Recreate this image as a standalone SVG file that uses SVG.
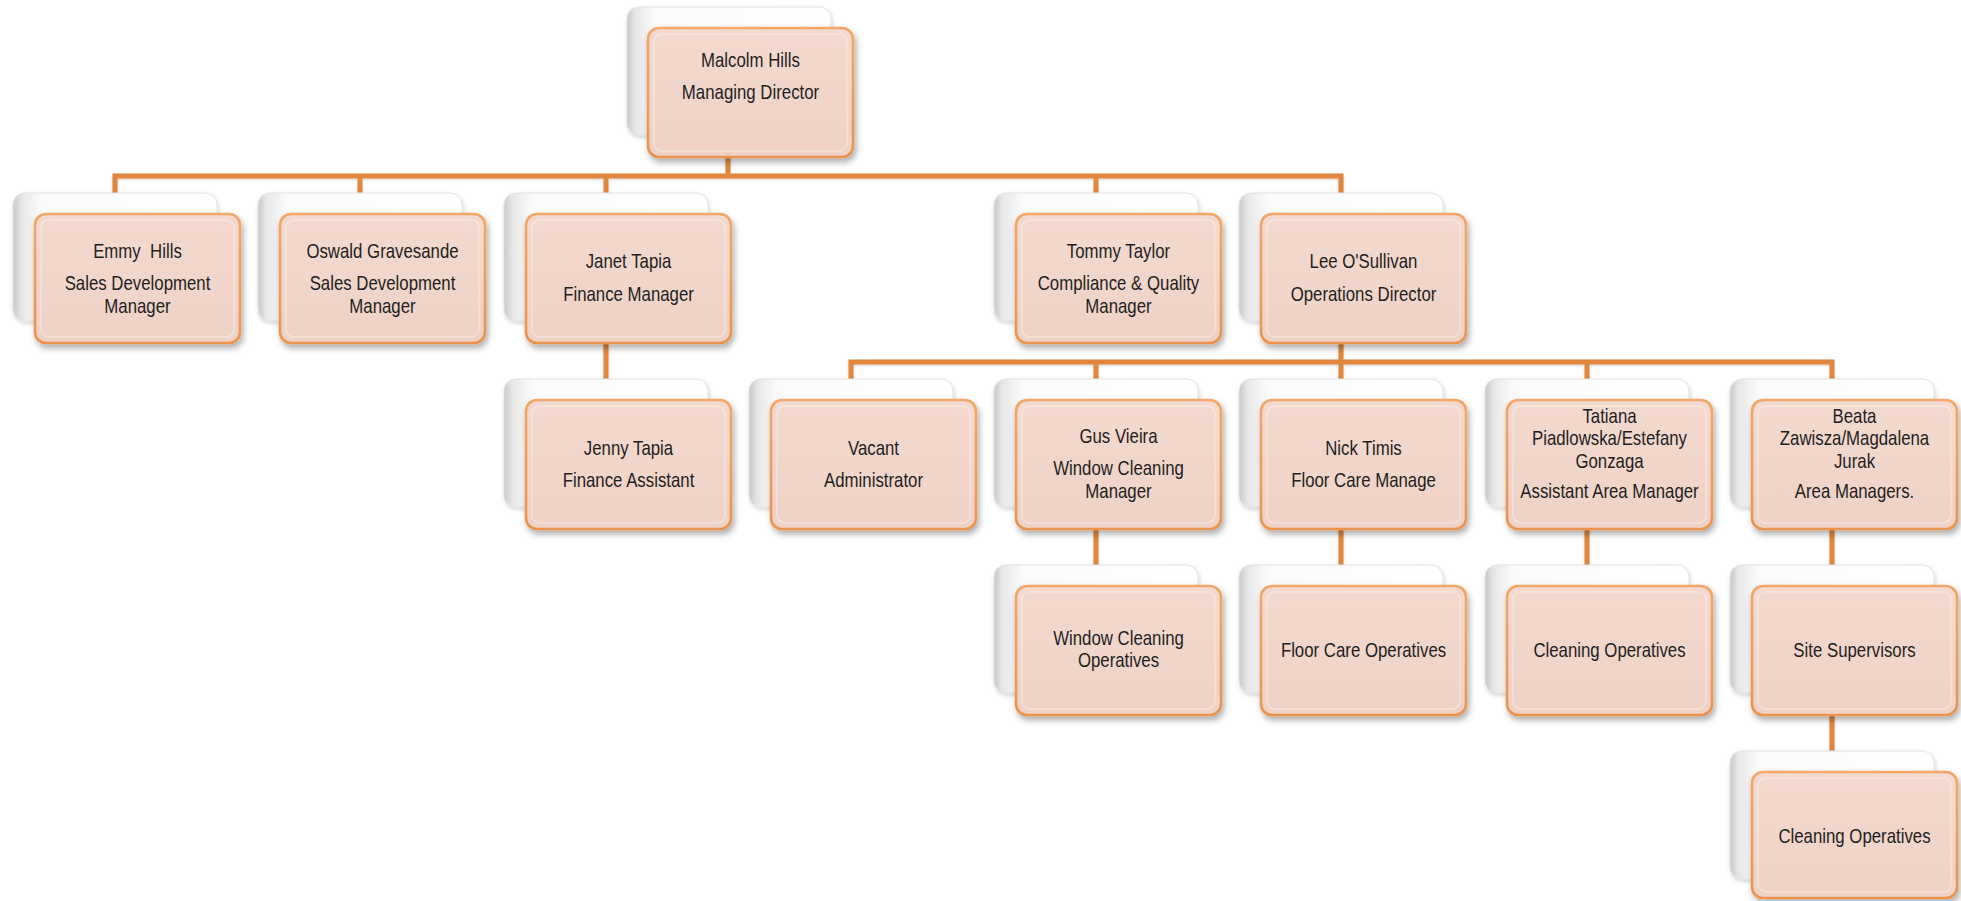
<svg xmlns="http://www.w3.org/2000/svg" width="1961" height="901" viewBox="0 0 1961 901">
<defs>
  <linearGradient id="gBack" x1="0" y1="0" x2="1" y2="0">
    <stop offset="0" stop-color="#c9c9c9"/>
    <stop offset="0.04" stop-color="#e6e6e6"/>
    <stop offset="0.14" stop-color="#fbfbfb"/>
    <stop offset="1" stop-color="#ffffff"/>
  </linearGradient>
  <linearGradient id="gFront" x1="0" y1="0" x2="0" y2="1">
    <stop offset="0" stop-color="#f3d9cf"/>
    <stop offset="1" stop-color="#efd2c6"/>
  </linearGradient>
  <linearGradient id="gEdge" x1="0" y1="0" x2="0" y2="1">
    <stop offset="0" stop-color="#f2a768"/>
    <stop offset="1" stop-color="#e9934f"/>
  </linearGradient>
  <filter id="shBack" x="-10%" y="-10%" width="125%" height="130%">
    <feDropShadow dx="1" dy="2" stdDeviation="2" flood-color="#000" flood-opacity="0.18"/>
  </filter>
  <filter id="shFront" x="-10%" y="-10%" width="125%" height="135%">
    <feDropShadow dx="2" dy="4" stdDeviation="3" flood-color="#000" flood-opacity="0.32"/>
  </filter>
  <filter id="shLine" filterUnits="userSpaceOnUse" x="0" y="0" width="1961" height="901">
    <feDropShadow dx="0" dy="1" stdDeviation="1" flood-color="#000" flood-opacity="0.2"/>
  </filter>
</defs>
<style>
  .back { fill: url(#gBack); stroke: #e2e2e2; stroke-width: 1; filter: url(#shBack); }
  .front { fill: url(#gFront); stroke: url(#gEdge); stroke-width: 2.6; filter: url(#shFront); }
  .gloss { fill: none; stroke: #ffffff; stroke-opacity: 0.35; stroke-width: 1.5; }
  .t { font-family: "Liberation Sans", Arial, sans-serif; font-size: 20.5px; fill: #1e1e1e; text-anchor: middle; white-space: pre; }
  .conn { fill: none; stroke: #e0873d; stroke-width: 5; stroke-linejoin: miter; stroke-linecap: butt; }
</style>
<rect width="1961" height="901" fill="#ffffff"/>

<g id="connectors" filter="url(#shLine)">
  <path class="conn" d="M728 150 V176"/>
  <path class="conn" d="M115 198 V176 H1341 V198"/>
  <path class="conn" d="M360 176 V198"/>
  <path class="conn" d="M606 176 V198"/>
  <path class="conn" d="M1096 176 V198"/>
  <path class="conn" d="M606 336 V384"/>
  <path class="conn" d="M1341 336 V362"/>
  <path class="conn" d="M851 384 V362 H1832 V384"/>
  <path class="conn" d="M1096 362 V384"/>
  <path class="conn" d="M1341 362 V384"/>
  <path class="conn" d="M1587 362 V384"/>
  <path class="conn" d="M1096 522 V570"/>
  <path class="conn" d="M1341 522 V570"/>
  <path class="conn" d="M1587 522 V570"/>
  <path class="conn" d="M1832 522 V570"/>
  <path class="conn" d="M1832 708 V756"/>
</g>

<g id="n-malcolm">
  <rect class="back" x="627" y="7" width="204" height="128" rx="12"/>
  <rect class="front" x="648" y="28" width="205" height="129" rx="11"/>
  <rect class="gloss" x="654" y="34" width="193" height="117" rx="8"/>
  <text class="t" transform="translate(750.5 0) scale(0.82 1)"><tspan x="0" y="67">Malcolm Hills</tspan><tspan x="0" y="99">Managing Director</tspan></text>
</g>

<g id="n-emmy">
  <rect class="back" x="13" y="193" width="204" height="128" rx="12"/>
  <rect class="front" x="35" y="214" width="205" height="129" rx="11"/>
  <rect class="gloss" x="41" y="220" width="193" height="117" rx="8"/>
  <text class="t" xml:space="preserve" transform="translate(137.5 0) scale(0.82 1)"><tspan x="0" y="258">Emmy  Hills</tspan><tspan x="0" y="290">Sales Development</tspan><tspan x="0" y="313">Manager</tspan></text>
</g>

<g id="n-oswald">
  <rect class="back" x="258" y="193" width="204" height="128" rx="12"/>
  <rect class="front" x="280" y="214" width="205" height="129" rx="11"/>
  <rect class="gloss" x="286" y="220" width="193" height="117" rx="8"/>
  <text class="t" transform="translate(382.5 0) scale(0.82 1)"><tspan x="0" y="258">Oswald Gravesande</tspan><tspan x="0" y="290">Sales Development</tspan><tspan x="0" y="313">Manager</tspan></text>
</g>

<g id="n-janet">
  <rect class="back" x="504" y="193" width="204" height="128" rx="12"/>
  <rect class="front" x="526" y="214" width="205" height="129" rx="11"/>
  <rect class="gloss" x="532" y="220" width="193" height="117" rx="8"/>
  <text class="t" transform="translate(628.5 0) scale(0.82 1)"><tspan x="0" y="268">Janet Tapia</tspan><tspan x="0" y="301">Finance Manager</tspan></text>
</g>

<g id="n-tommy">
  <rect class="back" x="994" y="193" width="204" height="128" rx="12"/>
  <rect class="front" x="1016" y="214" width="205" height="129" rx="11"/>
  <rect class="gloss" x="1022" y="220" width="193" height="117" rx="8"/>
  <text class="t" transform="translate(1118.5 0) scale(0.82 1)"><tspan x="0" y="258">Tommy Taylor</tspan><tspan x="0" y="290">Compliance &amp; Quality</tspan><tspan x="0" y="313">Manager</tspan></text>
</g>

<g id="n-lee">
  <rect class="back" x="1239" y="193" width="204" height="128" rx="12"/>
  <rect class="front" x="1261" y="214" width="205" height="129" rx="11"/>
  <rect class="gloss" x="1267" y="220" width="193" height="117" rx="8"/>
  <text class="t" transform="translate(1363.5 0) scale(0.82 1)"><tspan x="0" y="268">Lee O'Sullivan</tspan><tspan x="0" y="301">Operations Director</tspan></text>
</g>

<g id="n-jenny">
  <rect class="back" x="504" y="379" width="204" height="128" rx="12"/>
  <rect class="front" x="526" y="400" width="205" height="129" rx="11"/>
  <rect class="gloss" x="532" y="406" width="193" height="117" rx="8"/>
  <text class="t" transform="translate(628.5 0) scale(0.82 1)"><tspan x="0" y="455">Jenny Tapia</tspan><tspan x="0" y="487">Finance Assistant</tspan></text>
</g>

<g id="n-vacant">
  <rect class="back" x="749" y="379" width="204" height="128" rx="12"/>
  <rect class="front" x="771" y="400" width="205" height="129" rx="11"/>
  <rect class="gloss" x="777" y="406" width="193" height="117" rx="8"/>
  <text class="t" transform="translate(873.5 0) scale(0.82 1)"><tspan x="0" y="455">Vacant</tspan><tspan x="0" y="487">Administrator</tspan></text>
</g>

<g id="n-gus">
  <rect class="back" x="994" y="379" width="204" height="128" rx="12"/>
  <rect class="front" x="1016" y="400" width="205" height="129" rx="11"/>
  <rect class="gloss" x="1022" y="406" width="193" height="117" rx="8"/>
  <text class="t" transform="translate(1118.5 0) scale(0.82 1)"><tspan x="0" y="443">Gus Vieira</tspan><tspan x="0" y="475">Window Cleaning</tspan><tspan x="0" y="498">Manager</tspan></text>
</g>

<g id="n-nick">
  <rect class="back" x="1239" y="379" width="204" height="128" rx="12"/>
  <rect class="front" x="1261" y="400" width="205" height="129" rx="11"/>
  <rect class="gloss" x="1267" y="406" width="193" height="117" rx="8"/>
  <text class="t" transform="translate(1363.5 0) scale(0.82 1)"><tspan x="0" y="455">Nick Timis</tspan><tspan x="0" y="487">Floor Care Manage</tspan></text>
</g>

<g id="n-tatiana">
  <rect class="back" x="1485" y="379" width="204" height="128" rx="12"/>
  <rect class="front" x="1507" y="400" width="205" height="129" rx="11"/>
  <rect class="gloss" x="1513" y="406" width="193" height="117" rx="8"/>
  <text class="t" transform="translate(1609.5 0) scale(0.82 1)"><tspan x="0" y="423">Tatiana</tspan><tspan x="0" y="445">Piadlowska/Estefany</tspan><tspan x="0" y="468">Gonzaga</tspan><tspan x="0" y="498">Assistant Area Manager</tspan></text>
</g>

<g id="n-beata">
  <rect class="back" x="1730" y="379" width="204" height="128" rx="12"/>
  <rect class="front" x="1752" y="400" width="205" height="129" rx="11"/>
  <rect class="gloss" x="1758" y="406" width="193" height="117" rx="8"/>
  <text class="t" transform="translate(1854.5 0) scale(0.82 1)"><tspan x="0" y="423">Beata</tspan><tspan x="0" y="445">Zawisza/Magdalena</tspan><tspan x="0" y="468">Jurak</tspan><tspan x="0" y="498">Area Managers.</tspan></text>
</g>

<g id="n-window-ops">
  <rect class="back" x="994" y="565" width="204" height="128" rx="12"/>
  <rect class="front" x="1016" y="586" width="205" height="129" rx="11"/>
  <rect class="gloss" x="1022" y="592" width="193" height="117" rx="8"/>
  <text class="t" transform="translate(1118.5 0) scale(0.82 1)"><tspan x="0" y="645">Window Cleaning</tspan><tspan x="0" y="667">Operatives</tspan></text>
</g>

<g id="n-floor-ops">
  <rect class="back" x="1239" y="565" width="204" height="128" rx="12"/>
  <rect class="front" x="1261" y="586" width="205" height="129" rx="11"/>
  <rect class="gloss" x="1267" y="592" width="193" height="117" rx="8"/>
  <text class="t" transform="translate(1363.5 0) scale(0.82 1)"><tspan x="0" y="657">Floor Care Operatives</tspan></text>
</g>

<g id="n-cleaning-ops-1">
  <rect class="back" x="1485" y="565" width="204" height="128" rx="12"/>
  <rect class="front" x="1507" y="586" width="205" height="129" rx="11"/>
  <rect class="gloss" x="1513" y="592" width="193" height="117" rx="8"/>
  <text class="t" transform="translate(1609.5 0) scale(0.82 1)"><tspan x="0" y="657">Cleaning Operatives</tspan></text>
</g>

<g id="n-site-supervisors">
  <rect class="back" x="1730" y="565" width="204" height="128" rx="12"/>
  <rect class="front" x="1752" y="586" width="205" height="129" rx="11"/>
  <rect class="gloss" x="1758" y="592" width="193" height="117" rx="8"/>
  <text class="t" transform="translate(1854.5 0) scale(0.82 1)"><tspan x="0" y="657">Site Supervisors</tspan></text>
</g>

<g id="n-cleaning-ops-2">
  <rect class="back" x="1730" y="751" width="204" height="128" rx="12"/>
  <rect class="front" x="1752" y="772" width="205" height="126" rx="11"/>
  <rect class="gloss" x="1758" y="778" width="193" height="114" rx="8"/>
  <text class="t" transform="translate(1854.5 0) scale(0.82 1)"><tspan x="0" y="843">Cleaning Operatives</tspan></text>
</g>
</svg>
